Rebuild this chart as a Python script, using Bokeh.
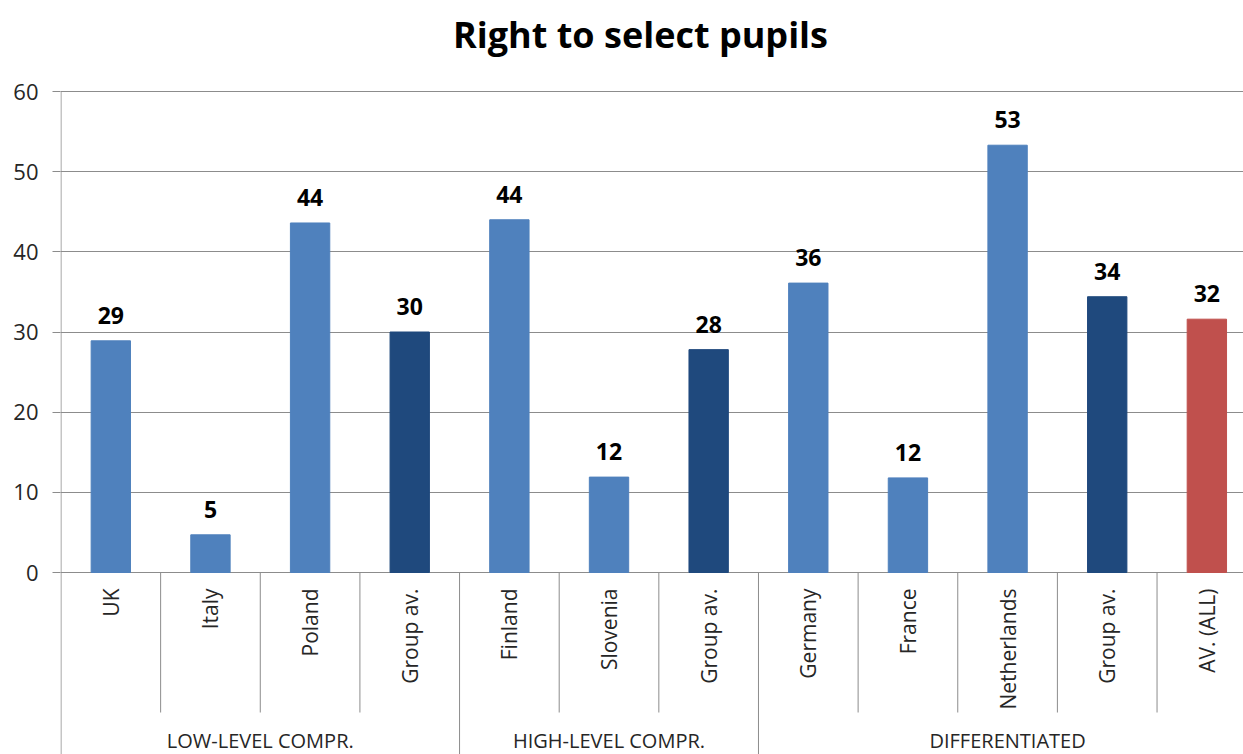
import math
from bokeh.plotting import figure
from bokeh.models import Range1d, FixedTicker, ColumnDataSource, LabelSet
from bokeh.core.properties import value
from bokeh.embed import file_html
from bokeh.resources import INLINE

# --- data -------------------------------------------------------------
categories = ["UK", "Italy", "Poland", "Group av.",
              "Finland", "Slovenia", "Group av.",
              "Germany", "France", "Netherlands", "Group av.", "AV. (ALL)"]
values = [28.9, 4.7, 43.6, 30.0, 44.0, 11.9, 27.8, 36.1, 11.8, 53.3, 34.4, 31.6]
kinds = ["country", "country", "country", "group",
         "country", "country", "group",
         "country", "country", "country", "group", "all"]
groups = ["LOW-LEVEL COMPR.", "HIGH-LEVEL COMPR.", "DIFFERENTIATED"]
group_sizes = [4, 3, 5]
y_ticks = [0, 10, 20, 30, 40, 50, 60]
title = "Right to select pupils"

# --- styling ----------------------------------------------------------
FONT = "Open Sans"
GRID = "#8c8c8c"
TEXT = "#262626"
kind_colors = {"country": "#4f81bd", "group": "#1f497d", "all": "#c0504d"}

W, H = 1243, 754
LEFT = 60
AXIS_X = 60.5                      # pixel where x = 0 lands
SLOT = 99.64                       # pixels per category slot
Y0, Y60 = 572, 91                  # pixels of value 0 and value 60
y_top = 60
px_per_unit = (Y0 - Y60) / y_top
y_max = y_top + Y60 / px_per_unit
y_bottom = -(H - Y0) / px_per_unit


def px_to_y(py):
    return (Y0 - py) / px_per_unit


def px_to_x(px):
    return (px - AXIS_X) / SLOT


p = figure(width=W, height=H, output_backend="svg", toolbar_location=None,
           x_range=Range1d(px_to_x(LEFT), px_to_x(W)),
           y_range=Range1d(y_bottom, y_max),
           min_border_left=LEFT, min_border_top=0,
           min_border_right=0, min_border_bottom=0,
           x_axis_location=None)
p.outline_line_color = None
p.background_fill_color = "white"
p.border_fill_color = "white"

# y axis (line drawn separately so it stops at the top tick)
p.yaxis.ticker = FixedTicker(ticks=y_ticks)
p.yaxis.axis_line_color = None
p.yaxis.major_tick_line_color = GRID
p.yaxis.major_tick_out = 8
p.yaxis.major_tick_in = 0
p.yaxis.minor_tick_line_color = None
p.yaxis.major_label_standoff = 14
p.yaxis.major_label_text_font = FONT
p.yaxis.major_label_text_font_size = "22px"
p.yaxis.major_label_text_color = TEXT

p.xgrid.visible = False
p.ygrid.ticker = FixedTicker(ticks=y_ticks)
p.ygrid.grid_line_color = GRID
p.ygrid.grid_line_width = 1

p.segment(x0=[0], y0=[y_bottom], x1=[0], y1=[y_top],
          line_color=GRID, line_width=1)

# bars
xs = [i + 0.5 for i in range(len(categories))]
src = ColumnDataSource(dict(
    x=xs, top=values, cat=categories,
    color=[kind_colors[k] for k in kinds],
    label=[f"{v:.0f}" for v in values],
))
p.vbar(x="x", top="top", bottom=0, width=0.395, color="color", source=src)

# value labels above bars
p.add_layout(LabelSet(x="x", y="top", text="label", source=src,
                      y_offset=17, text_align="center",
                      text_baseline="alphabetic",
                      text_font=value(FONT), text_font_style="bold",
                      text_font_size="23px", text_color="black"))

# category labels (rotated)
p.text(x="x", y=px_to_y(588), text="cat", source=src, angle=math.pi / 2,
       text_align="right", text_baseline="middle",
       text_font=value(FONT), text_font_size="21px", text_color=TEXT)

# separators between categories and between groups
group_edges = []
acc = 0
for s in group_sizes:
    acc += s
    group_edges.append(acc)
inner = [i for i in range(1, len(categories)) if i not in group_edges]
short_bottom = px_to_y(712)
p.segment(x0=inner, y0=[0] * len(inner), x1=inner, y1=[short_bottom] * len(inner),
          line_color=GRID, line_width=1)
p.segment(x0=group_edges, y0=[0] * len(group_edges), x1=group_edges,
          y1=[y_bottom] * len(group_edges), line_color=GRID, line_width=1)

# group labels
starts = [0] + group_edges[:-1]
centers = [(a + b) / 2 for a, b in zip(starts, group_edges)]
p.text(x=centers, y=[px_to_y(740)] * len(groups), text=groups,
       text_align="center", text_baseline="middle",
       text_font=value(FONT), text_font_size="20px", text_color=TEXT)

# chart title
p.text(x=[px_to_x(640)], y=[px_to_y(34)], text=[title],
       text_align="center", text_baseline="middle",
       text_font=value(FONT), text_font_style="bold",
       text_font_size="36px", text_color="black")

open("out.html", "w").write(file_html(p, INLINE))
